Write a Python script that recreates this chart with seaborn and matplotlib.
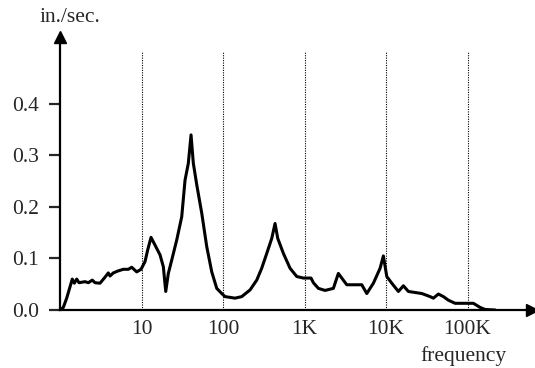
import numpy as np
import pandas as pd
import matplotlib
matplotlib.use("Agg")
import matplotlib.pyplot as plt
from matplotlib.ticker import NullLocator
import seaborn as sns

freq = [1, 1.098, 1.208, 1.327, 1.415, 1.498, 1.603, 1.711, 2.026, 2.225, 2.49, 2.688,
        3.096, 3.497, 3.913, 4.107, 4.508, 5.19, 5.98, 6.89, 7.58, 8.73, 9.86, 11.04,
        11.92, 13.08, 14.64, 16.87, 18.52, 19.82, 21.32, 23.48, 27.04, 31.13, 34.18,
        37.52, 40.5, 43.2, 47.6, 54.8, 63.1, 72.7, 83.7, 96.4, 105.8, 140.3, 169.6,
        214.5, 259, 298, 343.9, 395.9, 434.5, 469, 549.5, 664, 802, 967, 1201, 1282,
        1477, 1784, 2256, 2598, 2860, 3295, 5033, 5798, 6987, 8443, 9267, 10200, 11749,
        14158, 16310, 18776, 22690, 27416, 34672, 38050, 43830, 50480, 58140, 70270,
        117800, 142400, 163900, 217500]
velocity = [0.0, 0.005, 0.023, 0.045, 0.060, 0.052, 0.060, 0.053, 0.055, 0.053, 0.058, 0.053,
            0.052, 0.062, 0.072, 0.066, 0.072, 0.076, 0.079, 0.079, 0.083, 0.074, 0.079, 0.094,
            0.117, 0.141, 0.126, 0.107, 0.084, 0.036, 0.071, 0.097, 0.136, 0.181, 0.252,
            0.285, 0.340, 0.285, 0.243, 0.188, 0.123, 0.074, 0.042, 0.032, 0.026, 0.023, 0.026,
            0.039, 0.058, 0.081, 0.110, 0.139, 0.168, 0.139, 0.110, 0.081, 0.065, 0.062, 0.062, 0.053,
            0.042, 0.038, 0.042, 0.071, 0.062, 0.049, 0.049, 0.032, 0.052, 0.081, 0.105, 0.065, 0.052,
            0.036, 0.047, 0.036, 0.034, 0.032, 0.026, 0.023, 0.031, 0.026, 0.019, 0.013,
            0.013, 0.005, 0.001, 0.0]

y_ticks = [0.0, 0.1, 0.2, 0.3, 0.4]
y_labels = ["0.0", "0.1", "0.2", "0.3", "0.4"]
x_ticks = [10, 100, 1000, 10000, 100000]
x_labels = ["10", "100", "1K", "10K", "100K"]

df = pd.DataFrame({"frequency": freq, "velocity": velocity})

sns.set_style("white")
plt.rcParams["font.family"] = ["Liberation Serif", "DejaVu Serif"]

fig = plt.figure(figsize=(5.35, 3.68), dpi=100)
ax = fig.add_axes([60 / 535, 58 / 368, 472 / 535, 273 / 368])

sns.lineplot(data=df, x="frequency", y="velocity", ax=ax, color="black",
             linewidth=2.2, estimator=None, sort=False)
ax.set_xscale("log")
ax.set_xlim(1, 10 ** 5.79)
ax.set_ylim(0, 0.53)

ax.vlines(x_ticks, 0, 0.50, colors="black", linestyles=(0, (1, 1.2)), linewidth=0.8)

for s in ["top", "right"]:
    ax.spines[s].set_visible(False)
for s in ["left", "bottom"]:
    ax.spines[s].set_linewidth(1.6)
    ax.spines[s].set_color("black")

ax.plot(1, 0, ">", color="black", markersize=8, transform=ax.transAxes, clip_on=False)
ax.plot(0, 1, "^", color="black", markersize=8, transform=ax.transAxes, clip_on=False)

ax.set_yticks(y_ticks, y_labels)
ax.set_xticks(x_ticks, x_labels)
ax.xaxis.set_minor_locator(NullLocator())
ax.tick_params(axis="y", length=8, width=1.6, direction="out", pad=7, labelsize=15.5, left=True)
ax.tick_params(axis="x", length=0, pad=7, labelsize=15.5)

ax.set_xlabel("")
ax.set_ylabel("")
fig.text(70 / 535, 1 - 17 / 368, "in./sec.", ha="center", va="center", fontsize=15.5)
fig.text(463 / 535, 1 - 356 / 368, "frequency", ha="center", va="center", fontsize=15.5)

fig.savefig("out.png", dpi=100)
